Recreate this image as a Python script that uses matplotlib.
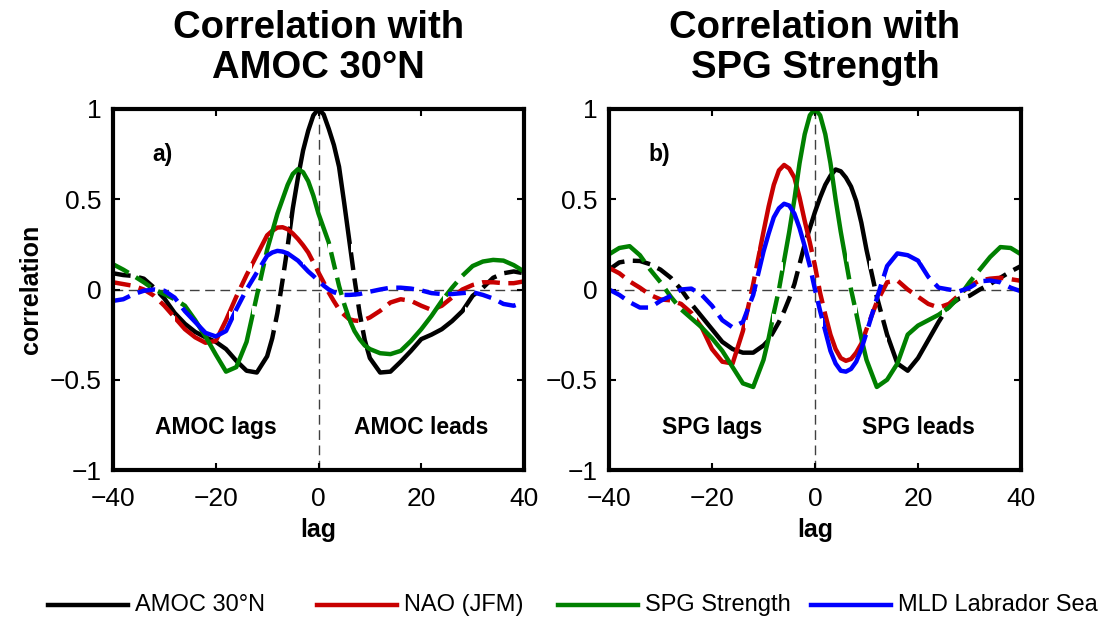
import numpy as np
import matplotlib.pyplot as plt
from matplotlib.path import Path
from matplotlib.lines import Line2D

plt.rcParams['font.family'] = 'Liberation Sans'

# lags (years): every 2 years on the flanks, every year around lag 0
lags = list(range(-40, -10, 2)) + list(range(-10, 11)) + list(range(12, 41, 2))

# panel a) correlation with AMOC 30N
amoc_a = [0.09, 0.08, 0.075, 0.06, 0.01, -0.05, -0.13, -0.19, -0.235, -0.265, -0.29, -0.33, -0.395, -0.45, -0.46,
          -0.37, -0.27, -0.13, 0.05, 0.24, 0.45, 0.62, 0.77, 0.88, 0.965, 1.0,
          0.97, 0.89, 0.8, 0.68, 0.48, 0.27, 0.06, -0.13, -0.28, -0.38,
          -0.46, -0.455, -0.40, -0.34, -0.275, -0.25, -0.22, -0.175, -0.12, -0.035, 0.01, 0.065, 0.09, 0.10, 0.09]
nao_a = [0.04, 0.03, 0.02, 0.0, -0.035, -0.09, -0.155, -0.22, -0.265, -0.295, -0.285, -0.17, -0.04, 0.08, 0.19,
         0.30, 0.325, 0.343, 0.345, 0.334, 0.31, 0.28, 0.245, 0.205, 0.15, 0.094,
         0.04, -0.017, -0.065, -0.11, -0.14, -0.165, -0.172, -0.174, -0.167, -0.155,
         -0.118, -0.072, -0.054, -0.063, -0.09, -0.113, -0.09, -0.044, 0.0, 0.025, 0.04, 0.04, 0.035, 0.035, 0.045]
spg_a = [0.14, 0.11, 0.076, 0.04, 0.0, -0.026, -0.054, -0.09, -0.17, -0.26, -0.36, -0.455, -0.43, -0.29, -0.035,
         0.22, 0.32, 0.42, 0.5, 0.58, 0.64, 0.667, 0.65, 0.6, 0.52, 0.42,
         0.34, 0.26, 0.14, 0.02, -0.08, -0.165, -0.23, -0.275, -0.31, -0.33,
         -0.353, -0.358, -0.34, -0.285, -0.22, -0.146, -0.063, 0.01, 0.076, 0.13, 0.155, 0.164, 0.16, 0.135, 0.10]
mld_a = [-0.063, -0.054, -0.026, -0.007, 0.0, -0.007, -0.045, -0.12, -0.18, -0.24, -0.26, -0.23, -0.11, 0.0, 0.094,
         0.187, 0.205, 0.214, 0.21, 0.2, 0.18, 0.16, 0.13, 0.10, 0.075, 0.048,
         0.022, 0.0, -0.015, -0.025, -0.03, -0.03, -0.028, -0.025, -0.018, -0.012,
         0.0, 0.01, 0.01, 0.005, -0.005, -0.02, -0.025, -0.025, -0.02, -0.015, -0.03, -0.05, -0.08, -0.09, -0.07]

# panel b) correlation with SPG strength
amoc_b = [0.11, 0.15, 0.16, 0.158, 0.14, 0.11, 0.065, 0.0, -0.08, -0.15, -0.22, -0.29, -0.33, -0.35, -0.35,
          -0.31, -0.28, -0.23, -0.18, -0.12, -0.05, 0.03, 0.14, 0.25, 0.34, 0.43,
          0.51, 0.58, 0.63, 0.665, 0.655, 0.62, 0.57, 0.49, 0.37, 0.22,
          -0.04, -0.25, -0.41, -0.45, -0.38, -0.28, -0.18, -0.09, -0.05, -0.035, 0.0, 0.03, 0.065, 0.1, 0.13]
nao_b = [0.12, 0.09, 0.045, 0.01, -0.03, -0.055, -0.06, -0.08, -0.13, -0.21, -0.33, -0.40, -0.41, -0.23, 0.03,
         0.32, 0.46, 0.58, 0.66, 0.69, 0.67, 0.62, 0.51, 0.38, 0.26, 0.13,
         -0.02, -0.14, -0.25, -0.33, -0.38, -0.395, -0.385, -0.35, -0.3, -0.22,
         -0.07, 0.04, 0.05, 0.0, -0.04, -0.08, -0.1, -0.08, -0.03, 0.02, 0.05, 0.06, 0.065, 0.057, 0.048]
spg_b = [0.195, 0.23, 0.24, 0.19, 0.11, 0.04, -0.04, -0.11, -0.16, -0.21, -0.27, -0.34, -0.43, -0.52, -0.54,
         -0.39, -0.27, -0.13, 0.0, 0.16, 0.32, 0.5, 0.7, 0.86, 0.965, 1.0,
         0.965, 0.86, 0.7, 0.5, 0.32, 0.16, 0.0, -0.13, -0.27, -0.39,
         -0.54, -0.50, -0.41, -0.25, -0.2, -0.17, -0.14, -0.1, -0.04, 0.04, 0.11, 0.18, 0.235, 0.23, 0.195]
mld_b = [0.0, -0.03, -0.07, -0.1, -0.1, -0.063, -0.035, 0.0, 0.005, -0.03, -0.09, -0.17, -0.21, -0.18, -0.03,
         0.21, 0.31, 0.40, 0.45, 0.475, 0.465, 0.42, 0.34, 0.24, 0.13, 0.0,
         -0.12, -0.23, -0.34, -0.41, -0.45, -0.455, -0.44, -0.4, -0.33, -0.24,
         -0.05, 0.13, 0.2, 0.19, 0.16, 0.07, 0.01, 0.0, -0.01, 0.01, 0.045, 0.05, 0.04, 0.01, -0.01]

# lag ranges where the correlation is significant (solid), elsewhere dashed
sig_amoc_a = [(-30.5, -9), (-5.5, 6.3), (9, 28.5)]
sig_nao_a = [(-28, -17.5), (-13, -2.5)]
sig_spg_a = [(-40, -38.5), (-25.8, -13), (-9.5, 1.8), (5.8, 24.3), (28.5, 38.5)]
sig_mld_a = [(-26, -16.5), (-11, -3)]

sig_amoc_b = [(-22.5, -9.3), (-1.2, 10.4), (14, 24.3)]
sig_nao_b = [(-23, -13.5), (-11, -0.9), (2.3, 9.5)]
sig_spg_b = [(-40, -33.5), (-25.3, -8.3), (-6.2, 6.3), (8.2, 24.6), (33, 40)]
sig_mld_b = [(-10.5, -1.3), (1.5, 9.5), (13.5, 20.5)]

names = ['AMOC 30°N', 'NAO (JFM)', 'SPG Strength', 'MLD Labrador Sea']
colors = ['black', '#c80000', '#008000', '#0000ff']
LW = 3.2


def spans(intervals):
    verts, codes = [], []
    for lo, hi in intervals:
        lo, hi = max(lo, -40), min(hi, 40)
        verts += [(lo, -2), (hi, -2), (hi, 2), (lo, 2), (lo, -2)]
        codes += [Path.MOVETO, Path.LINETO, Path.LINETO, Path.LINETO, Path.CLOSEPOLY]
    return Path(verts, codes)


def complement(intervals):
    out, start = [], -40
    for lo, hi in sorted(intervals):
        if lo > start:
            out.append((start, lo))
        start = max(start, hi)
    if start < 40:
        out.append((start, 40))
    return out


def panel(ax, curves, sigs, tag, lab_l, lab_r, title):
    ax.axhline(0, color='0.25', lw=1, ls=(0, (7, 4)), zorder=1)
    ax.axvline(0, color='0.25', lw=1, ls=(0, (7, 4)), zorder=1)
    for vals, sig, col in zip(curves, sigs, colors):
        l1, = ax.plot(lags, vals, color=col, lw=LW, solid_capstyle='butt',
                      solid_joinstyle='round')
        l1.set_clip_path(spans(sig), ax.transData)
        l2, = ax.plot(lags, vals, color=col, lw=LW, ls=(0, (4, 1.9)),
                      dash_capstyle='butt', dash_joinstyle='round')
        l2.set_clip_path(spans(complement(sig)), ax.transData)
    ax.set_xlim(-40, 40)
    ax.set_ylim(-1, 1)
    ax.set_xticks([-40, -20, 0, 20, 40])
    ax.set_yticks([-1, -0.5, 0, 0.5, 1])
    ax.set_yticklabels(['\u22121', '\u22120.5', '0', '0.5', '1'])
    ax.tick_params(direction='in', length=5, width=1.5, top=True, right=True,
                   labelsize=19)
    ax.tick_params(axis='x', pad=12)
    ax.tick_params(axis='y', pad=8)
    for sp in ax.spines.values():
        sp.set_linewidth(3)
    ax.text(-32.3, 0.75, tag, fontsize=16.5, fontweight='bold', va='center')
    ax.text(-20, -0.765, lab_l, fontsize=16.5, fontweight='bold', ha='center', va='center')
    ax.text(20, -0.765, lab_r, fontsize=16.5, fontweight='bold', ha='center', va='center')
    ax.set_title(title, fontsize=27.5, fontweight='bold', linespacing=1.15, pad=22)
    ax.set_xlabel('lag', fontsize=18, fontweight='bold')
    ax.xaxis.set_label_coords(0.5, -0.133)


fig = plt.figure(figsize=(11.01, 6.21), dpi=100)
ax_a = fig.add_axes([113 / 1101, 1 - 470 / 621, 411 / 1101, 361 / 621])
ax_b = fig.add_axes([609 / 1101, 1 - 470 / 621, 412 / 1101, 361 / 621])

panel(ax_a, [amoc_a, nao_a, spg_a, mld_a], [sig_amoc_a, sig_nao_a, sig_spg_a, sig_mld_a],
      'a)', 'AMOC lags', 'AMOC leads', 'Correlation with\nAMOC 30°N')
panel(ax_b, [amoc_b, nao_b, spg_b, mld_b], [sig_amoc_b, sig_nao_b, sig_spg_b, sig_mld_b],
      'b)', 'SPG lags', 'SPG leads', 'Correlation with\nSPG Strength')

ax_a.set_ylabel('correlation', fontsize=18, fontweight='bold')
ax_a.yaxis.set_label_coords(-0.17, 0.5)

# legend row along the bottom
leg_y = 1 - 605 / 621
for x0, name, col in zip([48, 317, 558, 811], names, colors):
    fig.add_artist(Line2D([x0 / 1101, (x0 + 80) / 1101], [leg_y, leg_y],
                          transform=fig.transFigure, color=col, lw=3.2))
    fig.text((x0 + 87) / 1101, leg_y, name, fontsize=17, va='center')

fig.savefig('out.png', dpi=100)
